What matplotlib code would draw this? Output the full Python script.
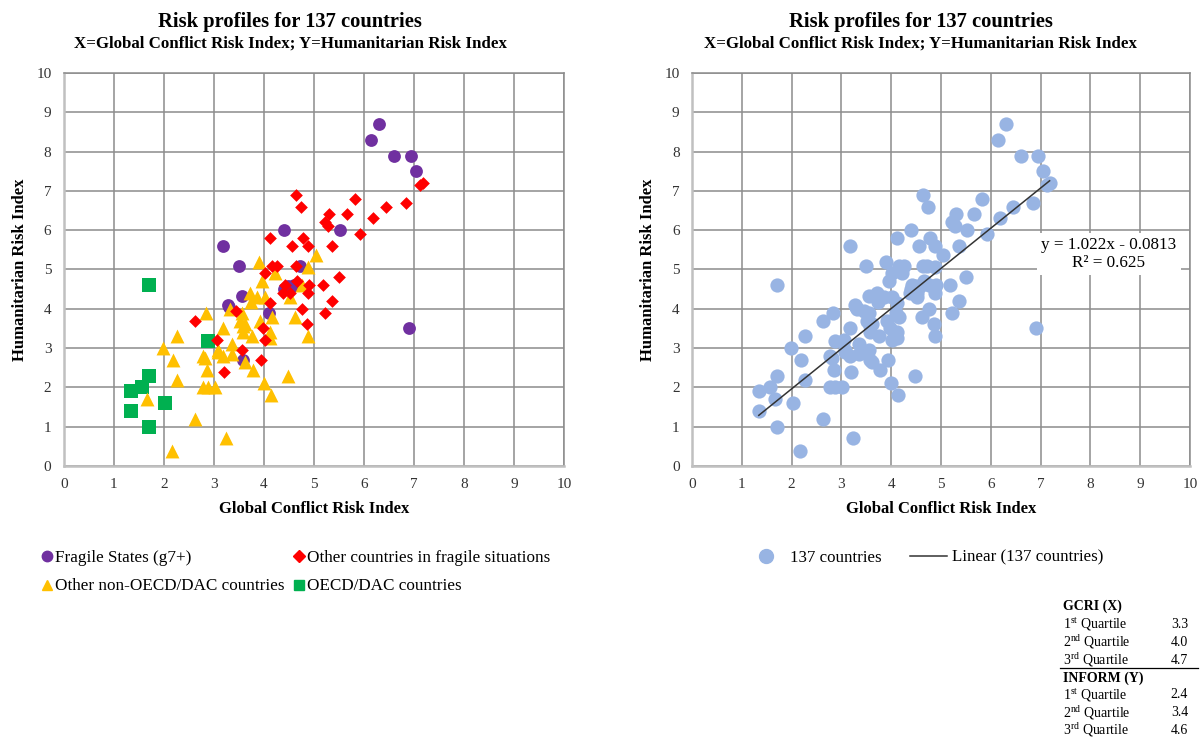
import matplotlib
matplotlib.use("Agg")
import matplotlib.pyplot as plt
from matplotlib.lines import Line2D
import numpy as np

plt.rcParams['font.family'] = ['Liberation Serif', 'DejaVu Serif']
plt.rcParams['mathtext.fontset'] = 'custom'
plt.rcParams['mathtext.rm'] = 'Liberation Serif'

# GCRI (x) and INFORM (y) scores by country group
fragile_x = [6.3, 6.15, 6.6, 6.95, 7.05, 5.52, 4.4, 3.18, 3.5, 4.72, 3.56, 3.28,
             4.48, 4.6, 4.4, 6.9, 4.1, 3.58, 4.55, 3.3]
fragile_y = [8.7, 8.3, 7.9, 7.9, 7.5, 6.0, 6.0, 5.6, 5.1, 5.1, 4.33, 4.1,
             4.58, 4.6, 4.5, 3.5, 3.9, 2.7, 4.55, 4.05]

other_fragile_x = [4.64, 4.74, 5.82, 5.3, 5.66, 5.22, 5.28, 6.44, 6.84, 7.12, 7.18,
                   6.18, 5.92, 4.12, 4.78, 4.88, 4.56, 5.36, 5.5, 5.18, 4.16, 4.26,
                   4.64, 4.02, 4.42, 4.9, 4.66, 5.36, 5.22, 4.86, 4.76, 4.88, 3.94,
                   4.02, 3.98, 4.38, 4.12, 2.62, 3.06, 3.2, 3.56, 4.52, 3.45]
other_fragile_y = [6.9, 6.6, 6.8, 6.4, 6.4, 6.2, 6.1, 6.6, 6.7, 7.15, 7.2,
                   6.3, 5.9, 5.8, 5.8, 5.6, 5.6, 5.6, 4.8, 4.6, 5.1, 5.1,
                   5.1, 4.9, 4.6, 4.6, 4.7, 4.2, 3.9, 3.6, 4.0, 4.4, 2.7,
                   3.2, 3.5, 4.4, 4.15, 3.7, 3.2, 2.4, 2.95, 4.4, 3.95]

non_oecd_x = [3.9, 4.22, 3.96, 3.72, 3.86, 4.02, 4.52, 4.76, 4.88, 5.04, 4.62, 4.88,
              4.16, 3.92, 3.32, 2.84, 3.56, 3.52, 3.18, 2.26, 1.98, 2.18, 2.26, 1.66,
              2.62, 2.16, 3.24, 2.78, 2.88, 3.02, 2.78, 2.86, 3.08, 3.36, 3.18, 3.58,
              3.76, 3.62, 3.78, 4.0, 4.14, 4.48, 4.12, 3.62, 3.36, 3.58, 4.12, 3.74,
              2.82, 3.08]
non_oecd_y = [5.2, 4.9, 4.7, 4.4, 4.3, 4.3, 4.3, 4.6, 5.06, 5.37, 3.8, 3.3,
              3.8, 3.7, 4.0, 3.9, 3.9, 3.7, 3.5, 3.3, 3.0, 2.7, 2.2, 1.7,
              1.2, 0.38, 0.7, 2.0, 2.0, 2.0, 2.8, 2.45, 2.95, 3.1, 2.8, 3.4,
              3.3, 2.65, 2.45, 2.1, 1.8, 2.3, 3.25, 3.6, 2.85, 3.55, 3.4, 4.17,
              2.75, 2.9]

oecd_x = [1.7, 2.88, 1.7, 1.56, 1.34, 1.34, 2.02, 1.7]
oecd_y = [4.6, 3.18, 2.3, 2.0, 1.9, 1.4, 1.6, 1.0]

# Linear trend fitted over all countries
slope, intercept = 1.022, -0.0813
r_squared = 0.625

# Quartile summary
quart_labels = ['1$^{\\mathrm{st}}$ Quartile', '2$^{\\mathrm{nd}}$ Quartile', '3$^{\\mathrm{rd}}$ Quartile']
gcri_quartiles = [3.3, 4.0, 4.7]
inform_quartiles = [2.4, 3.4, 4.6]

title = 'Risk profiles for 137 countries'
subtitle = 'X=Global Conflict Risk Index; Y=Humanitarian Risk Index'

fig = plt.figure(figsize=(12, 7.38), dpi=100)
axL = fig.add_axes([0.0533, 0.3686, 0.4167, 0.5325])
axR = fig.add_axes([0.5767, 0.3686, 0.415, 0.5325])


def style_axes(ax):
    ax.set_xlim(0, 10)
    ax.set_ylim(0, 10)
    ax.set_xticks(range(11))
    ax.set_yticks(range(11))
    ax.grid(True, color='#8c8c8c', linewidth=1.1)
    ax.set_axisbelow(True)
    for s in ['top', 'right']:
        ax.spines[s].set_color('#8c8c8c')
        ax.spines[s].set_linewidth(1.1)
    for s in ['left', 'bottom']:
        ax.spines[s].set_color('#c0c0c0')
        ax.spines[s].set_linewidth(1.8)
    ax.tick_params(length=0, labelsize=11, pad=9, labelcolor='#333333')
    ax.set_xlabel('Global Conflict Risk Index', fontsize=12, fontweight='bold', labelpad=7)
    ax.set_ylabel('Humanitarian Risk Index', fontsize=12, fontweight='bold', labelpad=6)


for ax in (axL, axR):
    style_axes(ax)

# Left panel: groups
axL.scatter(oecd_x, oecd_y, marker='s', s=90, color='#00B050', zorder=3, linewidths=0)
axL.scatter(non_oecd_x, non_oecd_y, marker='^', s=100, color='#FFC000', zorder=4, linewidths=0)
axL.scatter(other_fragile_x, other_fragile_y, marker='D', s=42, color='#FF0000', zorder=5, linewidths=0)
axL.scatter(fragile_x, fragile_y, marker='o', s=85, color='#7030A0', zorder=3, linewidths=0)

# Right panel: all countries with trend line
all_x = np.array(fragile_x + other_fragile_x + non_oecd_x + oecd_x)
all_y = np.array(fragile_y + other_fragile_y + non_oecd_y + oecd_y)
axR.scatter(all_x, all_y, marker='o', s=105, color='#98B4E3', zorder=3, linewidths=0)
xs = np.array([all_x.min(), all_x.max()])
axR.plot(xs, slope * xs + intercept, color='#333333', linewidth=1.1, zorder=4)
axR.text(8.37, 5.39, f'y = {slope}x - {abs(intercept)}\nR² = {r_squared}', ha='center', va='center',
         fontsize=12.3, linespacing=1.15, zorder=5,
         bbox=dict(facecolor='white', edgecolor='none', pad=3))

for cx in (290 / 1200, 921 / 1200):
    fig.text(cx, 1 - 22 / 738, title, ha='center', va='center', fontsize=14.8, fontweight='bold')
    fig.text(cx, 1 - 44 / 738, subtitle, ha='center', va='center', fontsize=12.2, fontweight='bold')

# Left legend
handles = [
    Line2D([], [], marker='o', linestyle='none', color='#7030A0', markersize=7.5),
    Line2D([], [], marker='^', linestyle='none', color='#FFC000', markersize=7.5),
    Line2D([], [], marker='D', linestyle='none', color='#FF0000', markersize=6),
    Line2D([], [], marker='s', linestyle='none', color='#00B050', markersize=7.5),
]
labels = ['Fragile States (g7+)', 'Other non-OECD/DAC countries',
          'Other countries in fragile situations', 'OECD/DAC countries']
fig.legend(handles, labels, ncol=2, loc='upper left', bbox_to_anchor=(0.022, 0.276),
           frameon=False, fontsize=12.3, handlelength=0.6, handletextpad=0.2,
           columnspacing=0.5, labelspacing=0.75)

# Right legend
rh = [Line2D([], [], marker='o', linestyle='none', color='#98B4E3', markersize=10),
      Line2D([], [], color='#333333', linewidth=1.1)]
fig.legend(rh, ['137 countries', 'Linear (137 countries)'], ncol=2, loc='upper left',
           bbox_to_anchor=(0.61, 0.276), frameon=False, fontsize=12.2,
           handlelength=2.2, handletextpad=0.3, columnspacing=1.7)

# Quartile table
tx0, tx1 = 1063 / 1200, 1188 / 1200
fs = 10


def ypos(px):
    return 1 - px / 738


fig.text(tx0, ypos(606), 'GCRI (X)', fontsize=fs, fontweight='bold', va='center')
for i, (lab, val) in enumerate(zip(quart_labels, gcri_quartiles)):
    fig.text(tx0, ypos(624 + 18 * i), lab, fontsize=fs, va='center')
    fig.text(tx1, ypos(624 + 18 * i), f'{val:.1f}', fontsize=fs, va='center', ha='right')
fig.add_artist(Line2D([1060 / 1200, 1198 / 1200], [ypos(668), ypos(668)], color='black', linewidth=0.9))
fig.text(tx0, ypos(678), 'INFORM (Y)', fontsize=fs, fontweight='bold', va='center')
for i, (lab, val) in enumerate(zip(quart_labels, inform_quartiles)):
    fig.text(tx0, ypos(695 + 17.5 * i), lab, fontsize=fs, va='center')
    fig.text(tx1, ypos(695 + 17.5 * i), f'{val:.1f}', fontsize=fs, va='center', ha='right')

fig.savefig('out.png', dpi=100)
